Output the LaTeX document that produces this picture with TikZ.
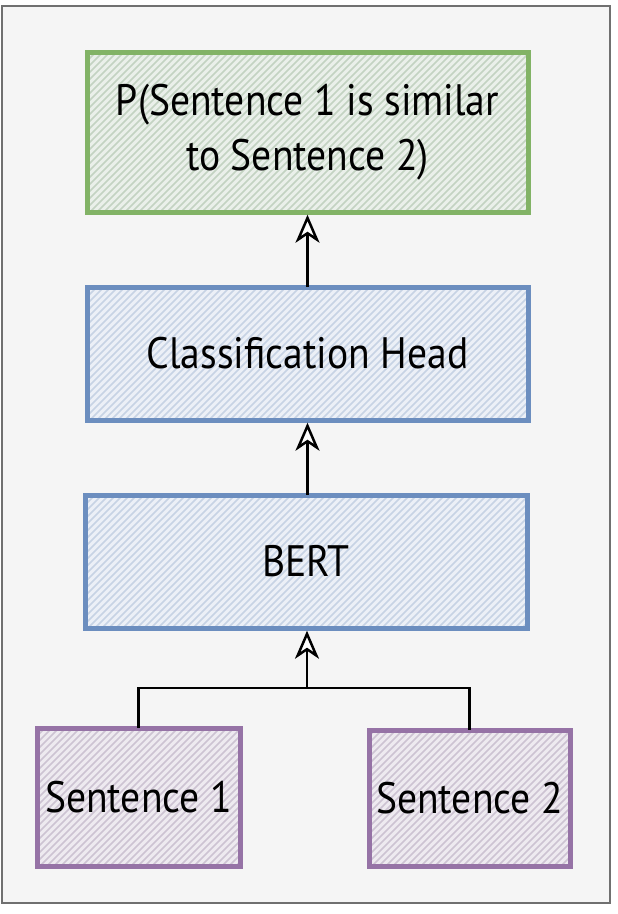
\documentclass[tikz,border=0pt]{standalone}
\usepackage{fontspec}
\setmainfont{PT Sans}[FakeStretch=0.9]
\usetikzlibrary{arrows.meta}
\definecolor{gstroke}{HTML}{82B366}
\definecolor{gfill}{HTML}{D5E8D4}
\definecolor{bstroke}{HTML}{6C8EBF}
\definecolor{bfill}{HTML}{DAE8FC}
\definecolor{pstroke}{HTML}{9673A6}
\definecolor{pfill}{HTML}{E1D5E7}
\definecolor{bgfill}{HTML}{F5F5F5}
\definecolor{frame}{HTML}{707070}
\newcommand\hatchfill[1]{%
  \fill[#1!35!bgfill] (path picture bounding box.south west) rectangle (path picture bounding box.north east);
  \foreach \k in {0,...,95}{%
    \draw[#1!90!black!95, line width=1.6pt] ([xshift=\k*7pt-200pt]path picture bounding box.south west) -- ++(500pt,500pt);}}
\tikzset{
  box/.style={inner sep=0pt, align=center, text=black,
    font=\fontsize{44}{55}\selectfont},
  greenbox/.style={box, path picture={\hatchfill{gfill}}, postaction={draw=gstroke, line width=5pt}},
  bluebox/.style={box, path picture={\hatchfill{bfill}}, postaction={draw=bstroke, line width=5pt}},
  purplebox/.style={box, path picture={\hatchfill{pfill}}, postaction={draw=pstroke, line width=5pt}},
  link/.style={line width=2.5pt}
}
\begin{document}
\begin{tikzpicture}[x=1pt, y=-1pt]
\useasboundingbox (0,0) rectangle (618,914);
\fill[white] (0,0) rectangle (618,914);
\draw[frame, fill=bgfill, line width=2.5pt] (2,6) rectangle (610,903);
\node[greenbox, minimum width=441pt, minimum height=160pt] (p) at (307.5,132) {P(Sentence 1 is similar\\to Sentence 2)};
\node[bluebox, minimum width=441pt, minimum height=133pt] (head) at (307.5,353.5) {Classification Head};
\node[bluebox, minimum width=442pt, minimum height=133pt] (bert) at (306,561.5) {BERT};
\node[purplebox, minimum width=203pt, minimum height=138pt] (s1) at (138.5,797) {Sentence 1};
\node[purplebox, minimum width=201pt, minimum height=136pt] (s2) at (469.5,798) {Sentence 2};
\coordinate (j) at (307,688);
\draw[line width=2.5pt, -{Stealth[open, fill=white, length=28pt, width=24pt, inset=8pt]}] (head.north -| p.south) -- ([yshift=-2.5pt]p.south);
\draw[line width=2.5pt, -{Stealth[open, fill=white, length=28pt, width=24pt, inset=8pt]}] (bert.north -| head.south) -- ([yshift=-2.5pt]head.south);
\draw[link] (s1.north) |- (j) -| (s2.north);
\draw[line width=2.5pt, -{Stealth[open, fill=white, length=28pt, width=24pt, inset=8pt]}] (j) -- ([yshift=-2.5pt]j |- bert.south);
\end{tikzpicture}
\end{document}
